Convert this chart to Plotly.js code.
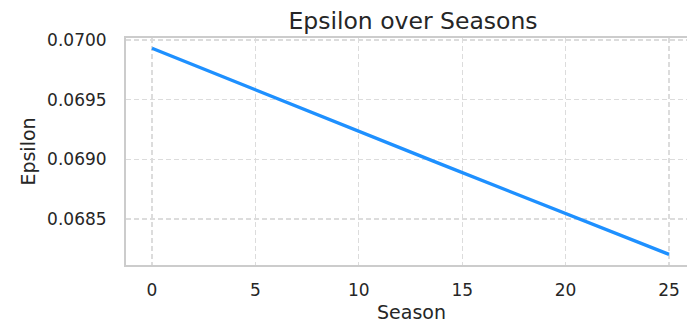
<!DOCTYPE html>
<html>
<head>
<meta charset="utf-8">
<script src="https://cdn.plot.ly/plotly-3.0.1.min.js"></script>
<style>html,body{margin:0;padding:0;overflow:hidden;background:#fff}</style>
</head>
<body>
<div id="chart" style="width:687px;height:324px"></div>
<script>
const seasons = [0,1,2,3,4,5,6,7,8,9,10,11,12,13,14,15,16,17,18,19,20,21,22,23,24,25];
const epsilon = [0.069930,0.069860,0.069790,0.069720,0.069651,0.069581,0.069511,0.069442,
                 0.069373,0.069303,0.069234,0.069165,0.069095,0.069026,0.068957,0.068888,
                 0.068820,0.068751,0.068682,0.068613,0.068545,0.068476,0.068408,0.068339,
                 0.068271,0.068203];
const xTicks = [0,5,10,15,20,25];
const yTicks = [0.0685,0.0690,0.0695,0.0700];
const yTickText = ['0.0685','0.0690','0.0695','0.0700'];

Plotly.newPlot('chart', [{
  x: seasons, y: epsilon, type:'scatter', mode:'lines',
  line:{color:'#1E90FF', width:3.3}, hoverinfo:'skip'
}], {
  width:687, height:324,
  margin:{l:126, r:0, t:38, b:59},
  paper_bgcolor:'#fff', plot_bgcolor:'#fff',
  showlegend:false,
  font:{family:'DejaVu Sans', color:'#262626', size:17},
  title:{text:'Epsilon over Seasons', font:{family:'DejaVu Sans', size:23.5, color:'#262626'},
         xref:'container', x:413/687, xanchor:'center', yref:'container', y:1-21/324, yanchor:'middle'},
  xaxis:{range:[-1.257, 25.87], tickvals:xTicks, ticktext:xTicks.map(String),
         showgrid:true, gridcolor:'#dcdcdc', gridwidth:1.3, griddash:'5px,3px',
         zeroline:false, showline:true, mirror:true, linecolor:'#cccccc', linewidth:2,
         ticks:'outside', ticklen:9, tickcolor:'rgba(0,0,0,0)',
         tickfont:{family:'DejaVu Sans', size:17, color:'#262626'}},
  yaxis:{range:[0.068114, 0.070016], tickvals:yTicks, ticktext:yTickText,
         showgrid:true, gridcolor:'#dcdcdc', gridwidth:1.3, griddash:'5px,3px',
         zeroline:false, showline:true, mirror:false, linecolor:'#cccccc', linewidth:2,
         ticks:'outside', ticklen:14, tickcolor:'rgba(0,0,0,0)',
         tickfont:{family:'DejaVu Sans', size:17, color:'#262626'},
         title:{text:'Epsilon', font:{family:'DejaVu Sans', size:19, color:'#262626'}, standoff:6}},
  annotations:[{text:'Season', xref:'paper', yref:'paper', x:(411-126)/561, y:-(311.5-265)/227,
                xanchor:'center', yanchor:'middle', showarrow:false, borderpad:0,
                font:{family:'DejaVu Sans', size:19, color:'#262626'}}]
}, {displayModeBar:false, staticPlot:true});
</script>
</body>
</html>
